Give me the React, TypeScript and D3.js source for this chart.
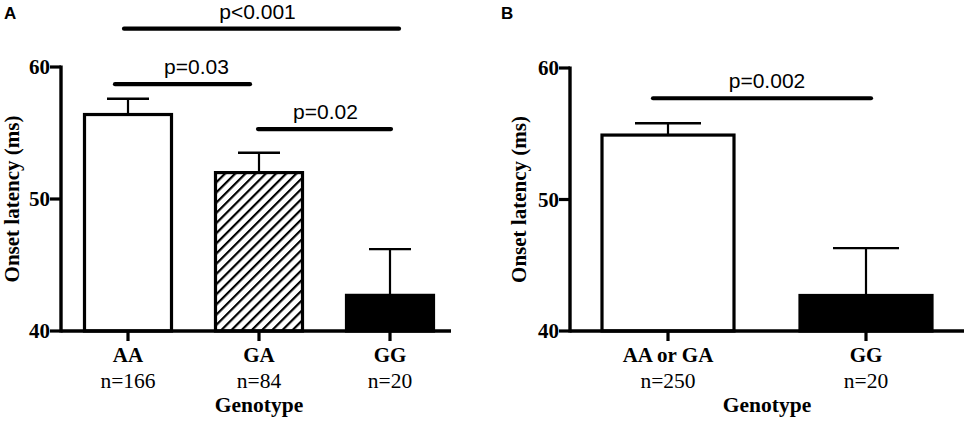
import React from "react";
import * as d3 from "d3";

// ---- data ----
const categoriesA = ["AA", "GA", "GG"];
const countsA = ["n=166", "n=84", "n=20"];
const meansA = [56.4, 52.0, 42.7];
const errorsA = [1.2, 1.5, 3.5];
const fillsA = ["white", "hatch", "black"];

const categoriesB = ["AA or GA", "GG"];
const countsB = ["n=250", "n=20"];
const meansB = [54.9, 42.7];
const errorsB = [0.9, 3.6];
const fillsB = ["white", "black"];

const yTicks = [40, 50, 60];
const yTitle = "Onset latency (ms)";
const xTitle = "Genotype";

// comparisons: [from, to, y (value units), label]
const compA: [string, string, number, string][] = [
  ["AA", "GG", 62.9, "p<0.001"],
  ["AA", "GA", 58.7, "p=0.03"],
  ["GA", "GG", 55.3, "p=0.02"],
];
const compB: [string, string, number, string][] = [["AA or GA", "GG", 57.7, "p=0.002"]];

// layout tweaks for comparison lines (pixel offsets: left dx, right dx, text dx)
const compLayoutA = [
  [-4, 9, -4],
  [-13, -9, 14],
  [-1, 1, 1],
];
const compLayoutB = [[-15, 5, 5]];

const SERIF = "'Liberation Serif', 'Times New Roman', serif";
const SANS = "'Liberation Sans', Arial, sans-serif";

type PanelProps = {
  id: string;
  letter: string;
  letterX: number;
  axisX: number;
  axisEnd: number;
  yTop: number;
  yBottom: number;
  xRange: [number, number];
  barW: number;
  capHalf: number;
  titleX: number;
  cats: string[];
  counts: string[];
  means: number[];
  errors: number[];
  fills: string[];
  comps: [string, string, number, string][];
  compLayout: number[][];
};

function Panel(p: PanelProps) {
  const y = d3.scaleLinear().domain([40, 60]).range([p.yBottom, p.yTop]);
  const x = d3.scalePoint<string>().domain(p.cats).range(p.xRange);
  const mid = (p.xRange[0] + p.xRange[1]) / 2;
  return (
    <g>
      <text x={p.letterX} y={19} fontFamily={SANS} fontWeight="bold" fontSize={17}>
        {p.letter}
      </text>
      {/* bars */}
      {p.cats.map((c, i) => {
        const cx = x(c)!;
        const top = y(p.means[i]);
        const errTop = y(p.means[i] + p.errors[i]);
        const fill =
          p.fills[i] === "hatch" ? `url(#hatch-${p.id})` : p.fills[i] === "black" ? "black" : "white";
        return (
          <g key={c}>
            <line x1={cx} x2={cx} y1={top} y2={errTop} stroke="black" strokeWidth={2.2} />
            <line x1={cx - p.capHalf} x2={cx + p.capHalf} y1={errTop} y2={errTop} stroke="black" strokeWidth={2.4} />
            <rect
              x={cx - p.barW / 2}
              y={top}
              width={p.barW}
              height={y(40) - top}
              fill={fill}
              stroke="black"
              strokeWidth={3.2}
            />
          </g>
        );
      })}
      {/* y axis */}
      <line x1={p.axisX} x2={p.axisX} y1={y(60) - 1.5} y2={y(40) + 1.5} stroke="black" strokeWidth={3.4} />
      {yTicks.map((t) => (
        <g key={t}>
          <line x1={p.axisX - 11} x2={p.axisX} y1={y(t)} y2={y(t)} stroke="black" strokeWidth={3.2} />
          <text
            x={p.axisX - 11}
            y={y(t) + 7}
            textAnchor="end"
            fontFamily={SERIF}
            fontWeight="bold"
            fontSize={21}
          >
            {t}
          </text>
        </g>
      ))}
      {/* x axis */}
      <line x1={p.axisX} x2={p.axisEnd} y1={y(40)} y2={y(40)} stroke="black" strokeWidth={3.4} />
      {p.cats.map((c, i) => (
        <g key={c}>
          <line x1={x(c)!} x2={x(c)!} y1={y(40)} y2={y(40) + 10} stroke="black" strokeWidth={3.2} />
          <text x={x(c)!} y={362} textAnchor="middle" fontFamily={SERIF} fontWeight="bold" fontSize={21}>
            {c}
          </text>
          <text x={x(c)!} y={388} textAnchor="middle" fontFamily={SERIF} fontSize={21.5}>
            {p.counts[i]}
          </text>
        </g>
      ))}
      <text x={mid} y={412} textAnchor="middle" fontFamily={SERIF} fontWeight="bold" fontSize={21.5}>
        {xTitle}
      </text>
      <text
        transform={`translate(${p.titleX},${(y(40) + y(60)) / 2}) rotate(-90)`}
        textAnchor="middle"
        fontFamily={SERIF}
        fontWeight="bold"
        fontSize={21}
      >
        {yTitle}
      </text>
      {/* comparisons */}
      {p.comps.map(([a, b, v, label], i) => {
        const [dl, dr, dt] = p.compLayout[i];
        const x1 = x(a)! + dl;
        const x2 = x(b)! + dr;
        const yy = y(v);
        return (
          <g key={label}>
            <line x1={x1} x2={x2} y1={yy} y2={yy} stroke="black" strokeWidth={4.2} strokeLinecap="round" />
            <text x={(x1 + x2) / 2 + dt} y={yy - 10} textAnchor="middle" fontFamily={SANS} fontSize={21}>
              {label}
            </text>
          </g>
        );
      })}
    </g>
  );
}

export default function App() {
  return (
    <svg
      width={966}
      height={423}
      style={{ position: "absolute", left: 0, top: 0, background: "white" }}
    >
      <defs>
        <pattern
          id="hatch-A"
          patternUnits="userSpaceOnUse"
          width={7.2}
          height={7.2}
          patternTransform="rotate(45)"
        >
          <rect width={7.2} height={7.2} fill="white" />
          <rect x={0} y={0} width={2.2} height={7.2} fill="black" />
        </pattern>
      </defs>
      <rect width={966} height={423} fill="white" />
      <Panel
        id="A"
        letter="A"
        letterX={4}
        axisX={61}
        axisEnd={451}
        yTop={67}
        yBottom={331}
        xRange={[128, 390]}
        barW={87}
        capHalf={21}
        titleX={19}
        cats={categoriesA}
        counts={countsA}
        means={meansA}
        errors={errorsA}
        fills={fillsA}
        comps={compA}
        compLayout={compLayoutA}
      />
      <Panel
        id="B"
        letter="B"
        letterX={501}
        axisX={570}
        axisEnd={964}
        yTop={68}
        yBottom={331}
        xRange={[668, 866]}
        barW={132}
        capHalf={33}
        titleX={526}
        cats={categoriesB}
        counts={countsB}
        means={meansB}
        errors={errorsB}
        fills={fillsB}
        comps={compB}
        compLayout={compLayoutB}
      />
    </svg>
  );
}
